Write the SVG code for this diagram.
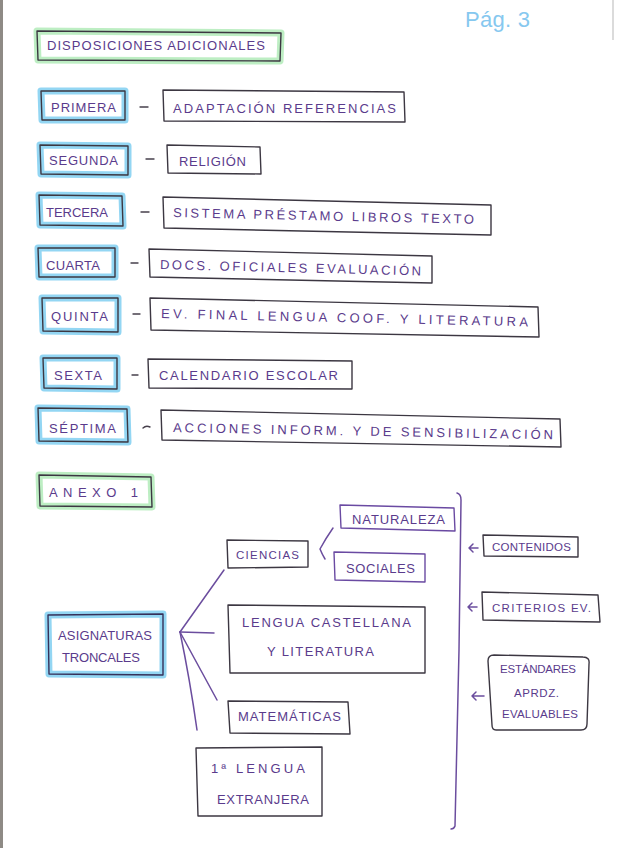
<svg xmlns="http://www.w3.org/2000/svg" width="617" height="848" viewBox="0 0 617 848">
<style>
.t{font-family:"Liberation Sans",Arial,sans-serif;font-size:13px;fill:#5a3b8c;}
.s{font-size:11.5px;}
.b{fill:none;stroke:#3c3742;stroke-width:1.4;stroke-linejoin:round;}
.bp{fill:none;stroke:#6a4aa2;stroke-width:1.4;stroke-linejoin:round;}
.gb{fill:none;stroke:#93d6f3;stroke-width:7;stroke-linejoin:round;}
.gg{fill:none;stroke:#bdeec3;stroke-width:7;stroke-linejoin:round;}
.c{fill:none;stroke:#6b4d9e;stroke-width:1.5;stroke-linecap:round;stroke-linejoin:round;}
.d{fill:none;stroke:#47404c;stroke-width:1.4;stroke-linecap:round;}
.pg{font-family:"Liberation Sans",Arial,sans-serif;font-size:22px;fill:#86c8ef;}
</style>
<rect x="0" y="0" width="617" height="848" fill="#ffffff"/>
<rect x="0" y="0" width="3" height="848" fill="#8e8a85"/>
<line x1="613" y1="0" x2="613" y2="40" stroke="#cfcfcf" stroke-width="1.5"/>
<text class="pg" x="465" y="27" textLength="65" lengthAdjust="spacing">Pág. 3</text>

<g id="disposiciones">
<polygon class="gg" points="37,31 281,33 280,61 38,60"/>
<polygon class="b" points="37,31 281,33 280,61 38,60"/>
<text class="t" x="47" y="50" textLength="218" lengthAdjust="spacing">DISPOSICIONES ADICIONALES</text>
</g>

<g id="primera">
<polygon class="gb" points="41,91 125,91 125,120 42,120"/>
<polygon class="b" points="41,91 125,91 125,120 42,120"/>
<text class="t" x="51" y="112" textLength="65" lengthAdjust="spacing">PRIMERA</text>
</g>
<g id="adaptacion">
<polygon class="b" points="163,90 404,92 405,122 164,121"/>
<text class="t" x="173" y="113" textLength="223" lengthAdjust="spacing">ADAPTACIÓN REFERENCIAS</text>
</g>

<g id="segunda">
<polygon class="gb" points="40,145 128,146 128,175 41,174"/>
<polygon class="b" points="40,145 128,146 128,175 41,174"/>
<text class="t" x="49" y="165" textLength="69" lengthAdjust="spacing">SEGUNDA</text>
</g>
<g id="religion">
<polygon class="b" points="167,145 260,147 261,174 168,173"/>
<text class="t" x="179" y="166" textLength="67" lengthAdjust="spacing">RELIGIÓN</text>
</g>

<g id="tercera">
<polygon class="gb" points="39,195 122,196 123,226 40,225"/>
<polygon class="b" points="39,195 122,196 123,226 40,225"/>
<text class="t" x="46" y="217" textLength="62" lengthAdjust="spacing">TERCERA</text>
</g>
<g id="sistema">
<polygon class="b" points="163,197 491,205 491,235 164,228"/>
<text class="t" x="173" y="217" textLength="301" lengthAdjust="spacing" transform="rotate(1.3 173 217)">SISTEMA PRÉSTAMO LIBROS TEXTO</text>
</g>

<g id="cuarta">
<polygon class="gb" points="38,248 115,248 115,277 39,277"/>
<polygon class="b" points="38,248 115,248 115,277 39,277"/>
<text class="t" x="46" y="270" textLength="54" lengthAdjust="spacing">CUARTA</text>
</g>
<g id="docs">
<polygon class="b" points="149,249 432,256 432,283 150,277"/>
<text class="t" x="160" y="269" textLength="261" lengthAdjust="spacing" transform="rotate(1.4 160 269)">DOCS. OFICIALES EVALUACIÓN</text>
</g>

<g id="quinta">
<polygon class="gb" points="42,298 118,298 118,332 43,331"/>
<polygon class="b" points="42,298 118,298 118,332 43,331"/>
<text class="t" x="51" y="321" textLength="57" lengthAdjust="spacing">QUINTA</text>
</g>
<g id="evfinal">
<polygon class="b" points="150,298 538,307 539,337 151,330"/>
<text class="t" x="161" y="318" textLength="367" lengthAdjust="spacing" transform="rotate(1.3 161 318)">EV. FINAL LENGUA COOF. Y LITERATURA</text>
</g>

<g id="sexta">
<polygon class="gb" points="43,358 117,358 117,389 44,388"/>
<polygon class="b" points="43,358 117,358 117,389 44,388"/>
<text class="t" x="54" y="380" textLength="48" lengthAdjust="spacing">SEXTA</text>
</g>
<g id="calendario">
<polygon class="b" points="148,359 352,361 352,389 149,388"/>
<text class="t" x="159" y="380" textLength="179" lengthAdjust="spacing">CALENDARIO ESCOLAR</text>
</g>

<g id="septima">
<polygon class="gb" points="38,408 127,409 128,442 39,441"/>
<polygon class="b" points="38,408 127,409 128,442 39,441"/>
<text class="t" x="49" y="433" textLength="67" lengthAdjust="spacing">SÉPTIMA</text>
</g>
<g id="acciones">
<polygon class="b" points="161,410 560,419 561,447 162,440"/>
<text class="t" x="173" y="432" textLength="380" lengthAdjust="spacing" transform="rotate(1.1 173 432)">ACCIONES INFORM. Y DE SENSIBILIZACIÓN</text>
</g>

<g id="anexo">
<polygon class="gg" points="39,475 151,477 152,507 40,506"/>
<polygon class="b" points="39,475 151,477 152,507 40,506"/>
<text class="t" x="49" y="497" textLength="89" lengthAdjust="spacing">ANEXO 1</text>
</g>

<g id="naturaleza">
<polygon class="bp" points="340,505 454,508 455,531 341,528"/>
<text class="t" x="352" y="524" textLength="93" lengthAdjust="spacing">NATURALEZA</text>
</g>
<g id="ciencias">
<polygon class="b" points="227,540 308,541 308,567 228,568"/>
<text class="t s" x="236" y="559" textLength="63" lengthAdjust="spacing">CIENCIAS</text>
</g>
<g id="sociales">
<polygon class="bp" points="334,552 425,554 425,582 335,580"/>
<text class="t" x="346" y="573" textLength="69" lengthAdjust="spacing">SOCIALES</text>
</g>

<g id="asignaturas">
<polygon class="gb" points="48,615 163,614 163,675 49,674"/>
<polygon class="b" points="48,615 163,614 163,675 49,674" style="stroke:#363059"/>
<text class="t" x="58" y="640" textLength="94" lengthAdjust="spacing">ASIGNATURAS</text>
<text class="t" x="62" y="662" textLength="78" lengthAdjust="spacing">TRONCALES</text>
</g>
<g id="lengua">
<polygon class="b" points="228,605 425,607 425,673 230,673"/>
<text class="t" x="242" y="627" textLength="169" lengthAdjust="spacing">LENGUA CASTELLANA</text>
<text class="t" x="267" y="656" textLength="107" lengthAdjust="spacing">Y LITERATURA</text>
</g>
<g id="matematicas">
<polygon class="b" points="228,701 348,702 350,734 230,733"/>
<text class="t" x="238" y="721" textLength="103" lengthAdjust="spacing">MATEMÁTICAS</text>
</g>
<g id="extranjera">
<polygon class="b" points="196,748 322,747 322,816 198,816"/>
<text class="t" x="211" y="773" textLength="94" lengthAdjust="spacing">1ª LENGUA</text>
<text class="t" x="217" y="804" textLength="92" lengthAdjust="spacing">EXTRANJERA</text>
</g>

<g id="contenidos">
<polygon class="b" points="483,535 578,537 578,557 484,556"/>
<text class="t s" x="492" y="551" textLength="79" lengthAdjust="spacing">CONTENIDOS</text>
</g>
<g id="criterios">
<polygon class="b" points="482,592 598,595 600,622 483,620"/>
<text class="t s" x="492" y="612" textLength="99" lengthAdjust="spacing">CRITERIOS EV.</text>
</g>
<g id="estandares">
<path class="b" d="M494,655 L583,657 Q590,657 589,664 L587,724 Q587,730 581,730 L496,730 Q492,730 492,725 L488,661 Q488,655 494,655 Z"/>
<text class="t s" x="500" y="673" textLength="76" lengthAdjust="spacing">ESTÁNDARES</text>
<text class="t s" x="514" y="697" textLength="45" lengthAdjust="spacing">APRDZ.</text>
<text class="t s" x="502" y="718" textLength="76" lengthAdjust="spacing">EVALUABLES</text>
</g>

<g id="connectors">
<line class="d" x1="140" y1="107" x2="148" y2="107"/>
<line class="d" x1="146" y1="159" x2="154" y2="159"/>
<line class="d" x1="141" y1="212" x2="149" y2="212"/>
<line class="d" x1="131" y1="263" x2="138" y2="263"/>
<line class="d" x1="133" y1="314" x2="140" y2="314"/>
<line class="d" x1="132" y1="375" x2="138" y2="375"/>
<path class="d" d="M143,428 Q146,425 150,427"/>
<path class="c" d="M333,528 Q326,538 320,549 Q322,554 325,559"/>
<path class="c" d="M180,632 L224,570"/>
<path class="c" d="M180,632 L214,633"/>
<path class="c" d="M180,632 L217,700"/>
<path class="c" d="M180,632 Q190,680 197,730"/>
<path class="c" d="M457,493 Q461,494 461,500 L459,650 L455,826 Q454,829 451,829"/>
<path class="c" d="M478,548 L469,548 M473,544 L469,548 L473,552"/>
<path class="c" d="M477,607 L468,607 M472,603 L468,607 L472,611"/>
<path class="c" d="M484,696 L472,696 M476,692 L472,696 L476,700"/>
</g>
</svg>
